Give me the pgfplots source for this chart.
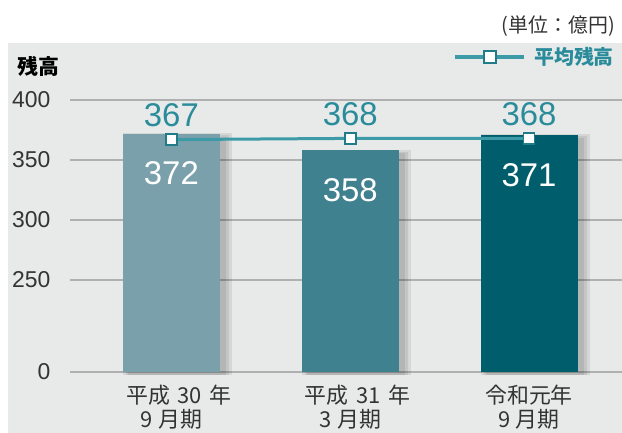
\documentclass[border=0pt]{standalone}
\usepackage{pgfplots}
\usepackage{pgfplotstable}
\pgfplotsset{compat=1.18}
\usepackage{fontspec}
\setmainfont{Liberation Sans}
\newfontfamily\jp{Noto Sans CJK JP}
\definecolor{barA}{HTML}{79A0AB}
\definecolor{barB}{HTML}{3F818F}
\definecolor{barC}{HTML}{005E6C}
\definecolor{lineC}{HTML}{3C9BA7}
\definecolor{markC}{HTML}{1F7C88}
\definecolor{lblC}{HTML}{2A8C9A}
\definecolor{panel}{HTML}{E8EAEA}
\definecolor{gridC}{HTML}{B0B0B0}
\definecolor{txt}{HTML}{333333}
% broken axis: values >= 250 are drawn at value - 173.333 (0..250 compressed)
\pgfplotstableread{
x v
0 372
}\tabA
\pgfplotstableread{
x v
1 358
}\tabB
\pgfplotstableread{
x v
2 371
}\tabC
\pgfplotstableread{
x v
0 367
1 368
2 368
}\tabAvg
\begin{document}
\begin{tikzpicture}
\useasboundingbox (-70bp,-61bp) rectangle (552bp,372bp);
\fill[panel] (-62bp,-61bp) rectangle (552bp,329bp);
\node[anchor=east, font=\jp\fontsize{20}{20}\selectfont, text=txt, inner sep=0pt] at (545bp,346bp) {(単位：億円)};
\node[anchor=west, font=\jp\bfseries\fontsize{21}{21}\selectfont, text=black, inner sep=0pt] at (-53bp,306bp) {残高};
\begin{axis}[
  at={(0,0)}, anchor=south west,
  scale only axis, width=552bp, height=272bp,
  xmin=-0.567, xmax=2.52, ymin=0, ymax=226.6667,
  axis line style={draw=none},
  clip=false,
  ytick={0,76.6667,126.6667,176.6667,226.6667},
  yticklabels={0,250,300,350,400},
  ymajorgrids, grid style={gridC, line width=1.4bp},
  xtick={0,1,2},
  xticklabels={{\hspace*{15bp}平成\hspace{0.35em}30\hspace{0.35em}年\\9\hspace{0.25em}月期},{\hspace*{15bp}平成\hspace{0.35em}31\hspace{0.35em}年\\3\hspace{0.25em}月期},{令和元年\\9\hspace{0.25em}月期}},
  major tick length=0pt,
  xticklabel style={align=center, font=\jp\fontsize{22}{25}\selectfont, text=txt, anchor=north, yshift=-9bp},
  yticklabel style={font=\fontsize{23}{23}\selectfont, text=txt, anchor=east, xshift=-16bp},
  legend style={at={(rel axis cs:0.6938,1.158)}, anchor=west, draw=none, fill=none,
    font=\jp\bfseries\fontsize{20}{20}\selectfont, text=lblC, inner sep=0pt,
    legend cell align=left},
  legend image code/.code={\draw[#1, line width=4bp, mark repeat=2, mark phase=2, mark size=6bp, mark options={fill=white, draw=markC, line width=2bp}] plot coordinates {(0bp,0bp)(34.5bp,0bp)(69bp,0bp)};},
]
\pgfplotsset{
  shstyle/.style={ybar, bar shift=6bp, draw=none, fill=black, fill opacity=0.08, forget plot, yshift=-3bp},
  bstyle/.style={ybar, bar width=97bp, bar shift=0pt, draw=none, forget plot,
  point meta=explicit symbolic, nodes near coords,
  nodes near coords style={font=\fontsize{33}{33}\selectfont, text=white, anchor=center, yshift=-40bp}}}
\addplot[shstyle, bar width=109bp] table[x=x, y expr=\thisrow{v}-173.3333+3] {\tabA};
\addplot[shstyle, bar width=103bp] table[x=x, y expr=\thisrow{v}-173.3333+1.5] {\tabA};
\addplot[shstyle, bar width=98bp] table[x=x, y expr=\thisrow{v}-173.3333] {\tabA};
\addplot[shstyle, bar width=109bp] table[x=x, y expr=\thisrow{v}-173.3333+3] {\tabB};
\addplot[shstyle, bar width=103bp] table[x=x, y expr=\thisrow{v}-173.3333+1.5] {\tabB};
\addplot[shstyle, bar width=98bp] table[x=x, y expr=\thisrow{v}-173.3333] {\tabB};
\addplot[shstyle, bar width=109bp] table[x=x, y expr=\thisrow{v}-173.3333+3] {\tabC};
\addplot[shstyle, bar width=103bp] table[x=x, y expr=\thisrow{v}-173.3333+1.5] {\tabC};
\addplot[shstyle, bar width=98bp] table[x=x, y expr=\thisrow{v}-173.3333] {\tabC};
\addplot[bstyle, fill=barA] table[x=x, y expr=\thisrow{v}-173.3333, meta=v] {\tabA};
\addplot[bstyle, fill=barB] table[x=x, y expr=\thisrow{v}-173.3333, meta=v] {\tabB};
\addplot[bstyle, fill=barC] table[x=x, y expr=\thisrow{v}-173.3333, meta=v] {\tabC};
\addplot[lineC, line width=3bp, mark=square*, mark size=5.5bp,
  mark options={fill=white, draw=markC, line width=1.8bp},
  point meta=explicit symbolic, nodes near coords,
  nodes near coords style={font=\fontsize{33}{33}\selectfont, text=lblC, anchor=center, yshift=24bp}]
  table[x=x, y expr=\thisrow{v}-173.3333, meta=v] {\tabAvg};
\addlegendentry{\hspace{6bp}平均残高}
\end{axis}
\end{tikzpicture}
\end{document}
